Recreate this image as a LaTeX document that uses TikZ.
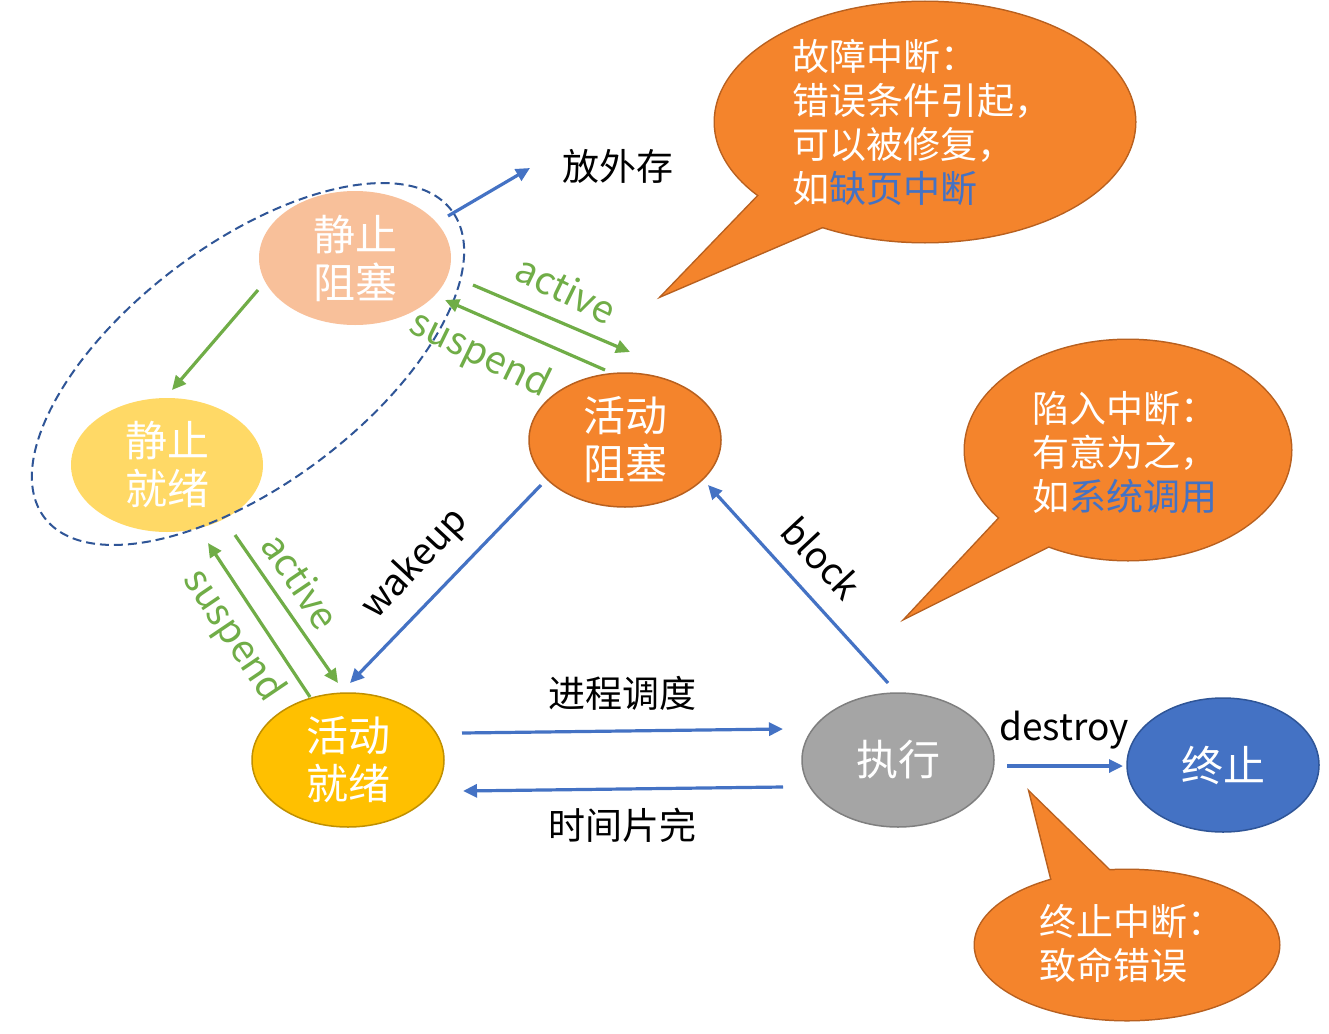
\documentclass[tikz,border=0pt]{standalone}
\usepackage{fontspec}
\setmainfont{Noto Sans CJK SC}
\usetikzlibrary{arrows.meta,shapes.geometric,calc}

\definecolor{peach}{HTML}{F8C09A}
\definecolor{lightyellow}{HTML}{FFD966}
\definecolor{vivid}{HTML}{F4842C}
\definecolor{vividedge}{HTML}{B8601F}
\definecolor{gold}{HTML}{FFC000}
\definecolor{goldedge}{HTML}{C09000}
\definecolor{grayfill}{HTML}{A5A5A5}
\definecolor{grayedge}{HTML}{7F7F7F}
\definecolor{bluefill}{HTML}{4472C4}
\definecolor{blueedge}{HTML}{2F5597}
\definecolor{arrowblue}{HTML}{4472C4}
\definecolor{arrowgreen}{HTML}{70AD47}
\definecolor{dashblue}{HTML}{2F5597}

\tikzset{
  state/.style={ellipse, minimum width=192pt, minimum height=134pt, inner sep=0pt,
    text=white, font=\fontsize{42}{48}\selectfont, align=center, line width=1.5pt},
  bluearrow/.style={draw=arrowblue, line width=3.2pt, -{Triangle[length=14pt,width=13pt]}},
  greenarrow/.style={draw=arrowgreen, line width=3.2pt, -{Triangle[length=14pt,width=13pt]}},
  blacklabel/.style={font=\fontsize{37}{44}\selectfont, text=black, inner sep=0pt},
  greenlabel/.style={font=\fontsize{38}{44}\selectfont, text=arrowgreen, inner sep=0pt},
  bubbleedge/.style={draw=vividedge, line width=3pt},
  bubblefill/.style={fill=vivid},
  bubbletext/.style={font=\fontsize{37}{44}\selectfont, text=white, align=left, inner sep=0pt, anchor=west},
}

\begin{document}
\begin{tikzpicture}[x=1pt,y=-1pt]
\useasboundingbox[fill=white] (0,0) rectangle (1329,1033);

% speech bubbles: thick outline first, then fill on top leaves one union outline
\draw[bubbleedge] (925,122) ellipse [x radius=210, y radius=120];
\draw[bubbleedge] (767,187) -- (663,295) -- (836,221) -- cycle;
\draw[bubbleedge] (1128,450) ellipse [x radius=163, y radius=110];
\draw[bubbleedge] (1009,508) -- (907,617) -- (1061,540) -- cycle;
\draw[bubbleedge] (1127,945) ellipse [x radius=152, y radius=75];
\draw[bubbleedge] (1054,889) -- (1030,793) -- (1115,876) -- cycle;
\fill[bubblefill] (925,122) ellipse [x radius=210, y radius=120];
\fill[bubblefill] (767,187) -- (663,295) -- (836,221) -- cycle;
\fill[bubblefill] (1128,450) ellipse [x radius=163, y radius=110];
\fill[bubblefill] (1009,508) -- (907,617) -- (1061,540) -- cycle;
\fill[bubblefill] (1127,945) ellipse [x radius=152, y radius=75];
\fill[bubblefill] (1054,889) -- (1030,793) -- (1115,876) -- cycle;

\node[bubbletext] (fault) at (792,122) {故障中断：\\错误条件引起，\\可以被修复，\\如\textcolor{bluefill}{缺页中断}};
\node[bubbletext] (trap) at (1032,452) {陷入中断：\\有意为之，\\如\textcolor{bluefill}{系统调用}};
\node[bubbletext] (abort) at (1039,943) {终止中断：\\致命错误};

% states
\node[state, fill=peach] (sb) at (355,258) {静止\\阻塞};
\node[state, fill=lightyellow] (sj) at (167,465) {静止\\就绪};
\node[state, fill=vivid, draw=vividedge] (ab) at (625,440) {活动\\阻塞};
\node[state, fill=gold, draw=goldedge] (ar) at (348,760) {活动\\就绪};
\node[state, fill=grayfill, draw=grayedge] (ex) at (898,760) {执行};
\node[state, fill=bluefill, draw=blueedge] (zz) at (1223,765) {终止};

% group of the suspended states
\node[draw=dashblue, dashed, dash pattern=on 9pt off 5pt, line width=2pt, ellipse,
      minimum width=510pt, minimum height=240pt, rotate=37] (grp) at (248,364) {};

% transitions
\coordinate (store) at (530,168);
\draw[bluearrow] ($(sb)+(93,-42)$) -- (store);
\node[blacklabel] (storelbl) at (618,166) {放外存};

\draw[greenarrow] ($(sb)+(-97,32)$) -- ($(sj)+(5,-75)$);

\draw[greenarrow] ($(sb)+(118,27)$) -- ($(ab)+(5,-88)$);
\node[greenlabel, rotate=-26] (act1) at (566,289) {active};
\draw[greenarrow] ($(ab)+(-20,-70)$) -- ($(sb)+(90,42)$);
\node[greenlabel, rotate=-26] (sus1) at (480,355) {suspend};

\draw[greenarrow] ($(sj)+(68,70)$) -- ($(ar)+(-10,-77)$);
\node[greenlabel, rotate=-56] (act2) at (301,581) {active};
\draw[greenarrow] ($(ar)+(-38,-63)$) -- ($(sj)+(41,78)$);
\node[greenlabel, rotate=-56] (sus2) at (233,636) {suspend};

\draw[bluearrow] ($(ab)+(-84,45)$) -- ($(ar)+(2,-77)$);
\node[blacklabel, rotate=47] (wk) at (415,564) {wakeup};

\draw[bluearrow] ($(ex)+(-10,-77)$) -- ($(ab)+(83,45)$);
\node[blacklabel, rotate=-47] (blk) at (822,558) {block};

\draw[bluearrow] ($(ar)+(114,-27)$) -- ($(ex)+(-115,-31)$);
\node[blacklabel] (sched) at (622,693) {进程调度};
\draw[bluearrow] ($(ex)+(-115,27)$) -- ($(ar)+(115,31)$);
\node[blacklabel] (slice) at (622,825) {时间片完};

\draw[bluearrow] ($(ex)+(109,6)$) -- ($(zz)+(-100,1)$);
\node[blacklabel] (dst) at (1064,730) {destroy};
\end{tikzpicture}
\end{document}
